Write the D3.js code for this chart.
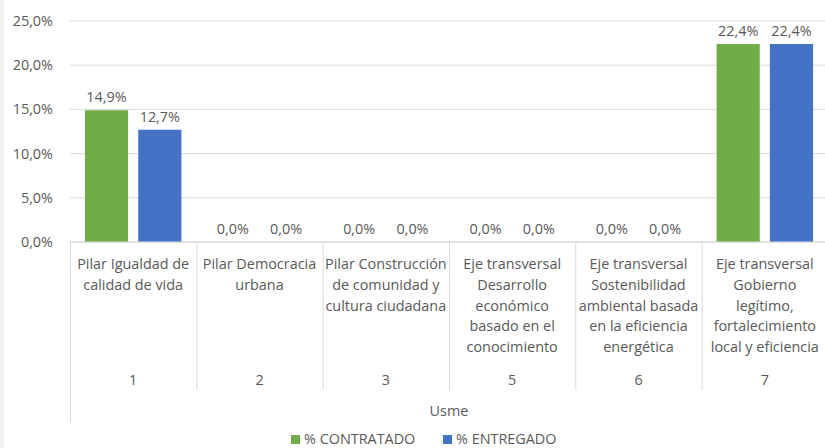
<!DOCTYPE html>
<html>
<head>
<meta charset="utf-8">
<script src="https://cdn.jsdelivr.net/npm/d3@7"></script>
<style>
  body { margin: 0; background: #fff; }
  text { font-family: "Open Sans", Lato, sans-serif; fill: #595959; }
</style>
</head>
<body>
<svg id="chart" width="825" height="448"></svg>
<script>
// data
var codes = ["1", "2", "3", "5", "6", "7"];
var labels = [
  ["Pilar Igualdad de", "calidad de vida"],
  ["Pilar Democracia", "urbana"],
  ["Pilar Construcción", "de comunidad y", "cultura ciudadana"],
  ["Eje transversal", "Desarrollo", "económico", "basado en el", "conocimiento"],
  ["Eje transversal", "Sostenibilidad", "ambiental basada", "en la eficiencia", "energética"],
  ["Eje transversal", "Gobierno", "legítimo,", "fortalecimiento", "local y eficiencia"]
];
var contratado = [14.9, 0, 0, 0, 0, 22.4];
var entregado = [12.7, 0, 0, 0, 0, 22.4];
var seriesNames = ["% CONTRATADO", "% ENTREGADO"];
var yTicks = [0, 5, 10, 15, 20, 25];
var groupName = "Usme";

var colors = ["#70ad47", "#4472c4"];
var FS = "14.4px";

var svg = d3.select("#chart");
var MARGINS = { top: 21, left: 70, bottom: 242 };
var WIDTH = 828;

// gray strip on the left edge
svg.append("rect").attr("x", 0).attr("y", 0).attr("width", 4).attr("height", 448).attr("fill", "#f2f2f2");

var x = d3.scaleBand().domain(codes).range([MARGINS.left, WIDTH]);
var x1 = d3.scaleBand().domain([0, 1]).range([0, x.bandwidth()]).paddingInner(0.19).paddingOuter(0.28);
var y = d3.scaleLinear().domain([0, 25]).range([MARGINS.bottom, MARGINS.top]);

var fmt = function (v) { return v.toFixed(1).replace(".", ",") + "%"; };

// gridlines
svg.append("g")
  .selectAll("line").data(yTicks).join("line")
  .attr("x1", MARGINS.left).attr("x2", 825)
  .attr("y1", function (d) { return y(d); }).attr("y2", function (d) { return y(d); })
  .attr("stroke", "#d9d9d9").attr("stroke-width", 1);

// y axis labels
svg.append("g")
  .selectAll("text").data(yTicks).join("text")
  .attr("x", 53).attr("y", function (d) { return y(d); })
  .attr("dy", "0.35em")
  .attr("text-anchor", "end")
  .style("font-size", FS)
  .text(fmt);

// bars
var series = [contratado, entregado];
series.forEach(function (vals, s) {
  var g = svg.append("g");
  g.selectAll("rect").data(vals).join("rect")
    .attr("x", function (d, i) { return x(codes[i]) + x1(s); })
    .attr("width", x1.bandwidth())
    .attr("y", function (d) { return y(d); })
    .attr("height", function (d) { return y(0) - y(d); })
    .attr("fill", colors[s]);
  g.selectAll("text").data(vals).join("text")
    .attr("x", function (d, i) { return x(codes[i]) + x1(s) + x1.bandwidth() / 2; })
    .attr("y", function (d) { return y(d) - 8; })
    .attr("text-anchor", "middle")
    .style("font-size", FS)
    .text(fmt);
});

// category axis lines
var axisG = svg.append("g");
axisG.append("line")
  .attr("x1", MARGINS.left).attr("x2", 825)
  .attr("y1", y(0)).attr("y2", y(0))
  .attr("stroke", "#d9d9d9");
codes.forEach(function (c, i) {
  var xx = x(c) + 0.5;
  axisG.append("line")
    .attr("x1", xx).attr("x2", xx)
    .attr("y1", y(0)).attr("y2", i === 0 ? 422 : 390)
    .attr("stroke", "#d9d9d9");
});

// category labels
codes.forEach(function (c, i) {
  var cx = x(c) + x.bandwidth() / 2;
  var t = axisG.append("text")
    .attr("x", cx).attr("y", 269)
    .attr("text-anchor", "middle")
    .style("font-size", FS);
  labels[i].forEach(function (line, j) {
    t.append("tspan").attr("x", cx).attr("dy", j === 0 ? 0 : 20.8).text(line);
  });
  axisG.append("text")
    .attr("x", cx).attr("y", 385)
    .attr("text-anchor", "middle")
    .style("font-size", FS)
    .text(c);
});

axisG.append("text")
  .attr("x", (MARGINS.left + WIDTH) / 2).attr("y", 416)
  .attr("text-anchor", "middle")
  .style("font-size", FS)
  .text(groupName);

// legend
var legend = svg.append("g");
var legX = [291, 443];
seriesNames.forEach(function (n, i) {
  legend.append("rect")
    .attr("x", legX[i]).attr("y", 435).attr("width", 9).attr("height", 9)
    .attr("fill", colors[i]);
  legend.append("text")
    .attr("x", legX[i] + 13).attr("y", 444)
    .style("font-size", FS)
    .text(n);
});
</script>
</body>
</html>
